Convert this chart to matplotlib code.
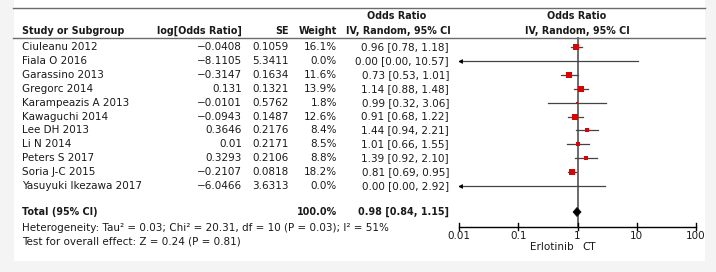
import numpy as np
import matplotlib
matplotlib.use("Agg")
import matplotlib.pyplot as plt
from matplotlib.patches import Rectangle, Polygon

# === DATA ===
studies = ['Ciuleanu 2012', 'Fiala O 2016', 'Garassino 2013', 'Gregorc 2014',
           'Karampeazis A 2013', 'Kawaguchi 2014', 'Lee DH 2013', 'Li N 2014',
           'Peters S 2017', 'Soria J-C 2015', 'Yasuyuki Ikezawa 2017']
log_or = [-0.0408, -8.1105, -0.3147, 0.131, -0.0101, -0.0943, 0.3646, 0.01,
          0.3293, -0.2107, -6.0466]
se = [0.1059, 5.3411, 0.1634, 0.1321, 0.5762, 0.1487, 0.2176, 0.2171,
      0.2106, 0.0818, 3.6313]
weight = [16.1, 0.0, 11.6, 13.9, 1.8, 12.6, 8.4, 8.5, 8.8, 18.2, 0.0]
total_or, total_lo, total_hi = 0.98, 0.84, 1.15
het_text = 'Heterogeneity: Tau\u00b2 = 0.03; Chi\u00b2 = 20.31, df = 10 (P = 0.03); I\u00b2 = 51%'
effect_text = 'Test for overall effect: Z = 0.24 (P = 0.81)'
x_ticks = [0.01, 0.1, 1, 10, 100]
x_tick_labels = ['0.01', '0.1', '1', '10', '100']
left_label, right_label = 'Erlotinib', 'CT'

W, H = 716, 272
FS = 7.5
FSB = 6.9
TXT = '#1a1a1a'
LINE = '#6b6b6b'

odds = np.exp(log_or)
lo = np.exp(np.array(log_or) - 1.96 * np.array(se))
hi = np.exp(np.array(log_or) + 1.96 * np.array(se))

fig = plt.figure(figsize=(W / 100, H / 100), dpi=100, facecolor='#f4f4f4')

# text layer in pixel coordinates
tx = fig.add_axes([0, 0, 1, 1])
tx.set_xlim(0, W)
tx.set_ylim(H, 0)
tx.axis('off')
tx.add_patch(Rectangle((14, 0), 691, 261, facecolor='white', edgecolor='none', zorder=0))

tx.plot([13, 705], [8, 8], color=LINE, lw=1.0)
tx.plot([13, 705], [38, 38], color=LINE, lw=1.0)

hdr = dict(fontsize=FSB, fontweight='bold', color=TXT, va='center')
tx.text(22, 31, 'Study or Subgroup', ha='left', **hdr)
tx.text(242, 31, 'log[Odds Ratio]', ha='right', **hdr)
tx.text(289, 31, 'SE', ha='right', **hdr)
tx.text(337, 31, 'Weight', ha='right', **hdr)
tx.text(397, 16, 'Odds Ratio', ha='center', **hdr)
tx.text(398, 31, 'IV, Random, 95% CI', ha='center', **hdr)
tx.text(577, 16, 'Odds Ratio', ha='center', **hdr)
tx.text(577, 31, 'IV, Random, 95% CI', ha='center', **hdr)

row_y = [47 + 13.9 * i for i in range(len(studies))]
body = dict(fontsize=FS, color=TXT, va='center')
for i, name in enumerate(studies):
    y = row_y[i]
    tx.text(22, y, name, ha='left', **body)
    tx.text(242, y, str(log_or[i]).replace('-', '\u2212'), ha='right', **body)
    tx.text(289, y, f'{se[i]:.4f}', ha='right', **body)
    tx.text(337, y, f'{weight[i]:.1f}%', ha='right', **body)
    tx.text(449, y, f'{odds[i]:.2f} [{lo[i]:.2f}, {hi[i]:.2f}]', ha='right', **body)

tot_y = 212
bold = dict(fontsize=FSB, fontweight='bold', color=TXT, va='center')
tx.text(22, tot_y, 'Total (95% CI)', ha='left', **bold)
tx.text(337, tot_y, '100.0%', ha='right', **bold)
tx.text(449, tot_y, f'{total_or:.2f} [{total_lo:.2f}, {total_hi:.2f}]', ha='right', **bold)
tx.text(22, 228, het_text, ha='left', **body)
tx.text(22, 242, effect_text, ha='left', **body)

# forest layer: log x axis, same pixel y
x0, x1 = 459, 696
ax = fig.add_axes([x0 / W, 0, (x1 - x0) / W, 1])
ax.set_xscale('log')
ax.set_xlim(0.01, 100)
ax.set_ylim(H, 0)
ax.axis('off')
ax.patch.set_alpha(0)

ax.plot([1, 1], [38, 227], color=LINE, lw=1.4, zorder=1)

for i in range(len(studies)):
    y = row_y[i]
    left = max(lo[i], 0.01)
    right = min(hi[i], 100)
    ax.plot([left, right], [y, y], color='#444444', lw=0.9, zorder=2)
    if lo[i] < 0.01:
        ax.plot([0.0105], [y], marker='<', color='black', markersize=3.5,
                markeredgewidth=0, zorder=3)
    if weight[i] > 0:
        side = np.sqrt(weight[i]) * 1.5
        ax.plot([odds[i]], [y], marker='s', color='#e00000', markersize=side * 0.72,
                markeredgewidth=0, zorder=3)

# pooled diamond
dh = 4.5
ax.add_patch(Polygon([(total_lo, tot_y), (total_or, tot_y - dh), (total_hi, tot_y),
                      (total_or, tot_y + dh)], closed=True, facecolor='black',
                     edgecolor='black', lw=0.5, zorder=4))

# bottom axis
axis_y = 227
ax.plot([0.01, 100], [axis_y, axis_y], color='black', lw=1.0, clip_on=False)
for t, lab in zip(x_ticks, x_tick_labels):
    ax.plot([t, t], [axis_y - 4, axis_y + 3], color='black', lw=1.0, clip_on=False)
    ax.text(t, 236, lab, ha='center', va='center', fontsize=FS, color=TXT, clip_on=False)
ax.text(0.85, 247, left_label, ha='right', va='center', fontsize=FS, color=TXT)
ax.text(1.2, 247, right_label, ha='left', va='center', fontsize=FS, color=TXT)

fig.savefig('out.png', dpi=100, facecolor=fig.get_facecolor())
